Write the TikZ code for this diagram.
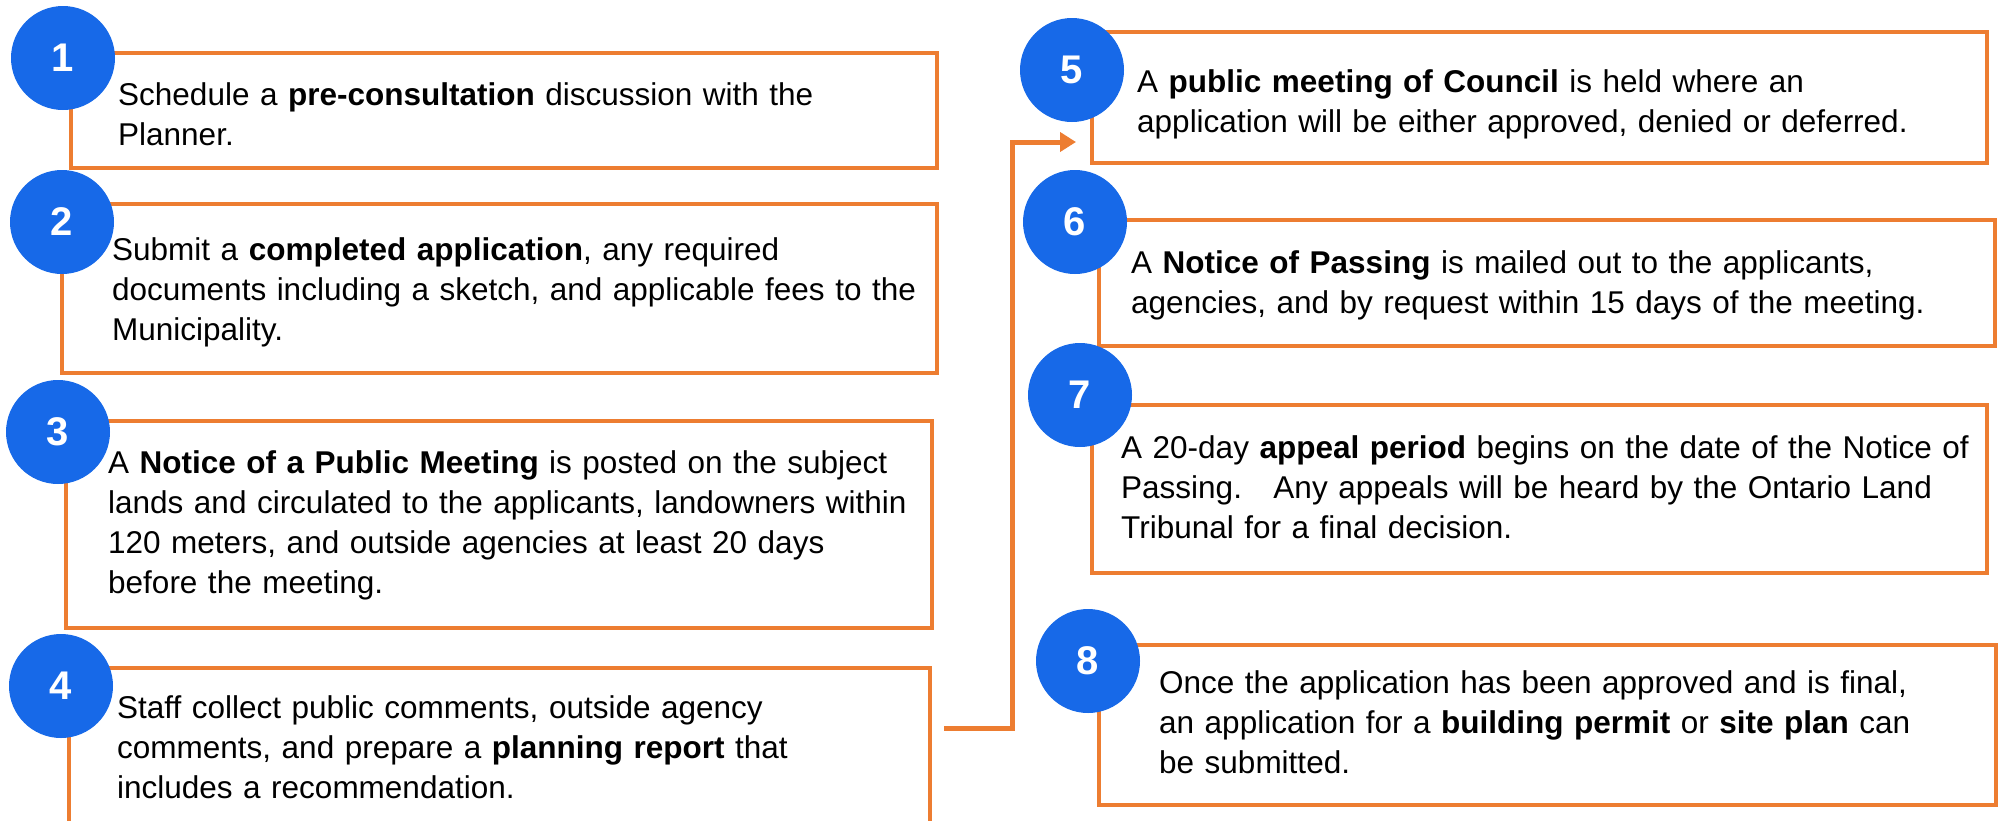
\documentclass[tikz,border=0pt]{standalone}
\usepackage{fontspec}
\setmainfont{Liberation Sans}
\usetikzlibrary{arrows.meta,calc}
\definecolor{steporange}{HTML}{ED7D31}
\definecolor{stepblue}{HTML}{1769E8}

\begin{document}
\begin{tikzpicture}[x=1pt,y=-1pt,
    stepbox/.style={draw=steporange,line width=3.5pt,inner sep=0pt,outer sep=0pt,anchor=north west},
    stepnum/.style={circle,fill=stepblue,text=white,minimum size=104pt,inner sep=0pt,
        font=\fontsize{40}{40}\selectfont\bfseries},
    steptext/.style={anchor=base west,inner sep=0pt,text width=880pt,align=left,
        font=\fontsize{31.5}{40}\selectfont},
    flowline/.style={draw=steporange,line width=5pt,-{Triangle[length=16pt,width=19pt]}}]
    \useasboundingbox (0,0) rectangle (2005,820);
    \clip (0,0) rectangle (2005,820);

    \node[stepbox,minimum width=866pt,minimum height=115pt] (b1) at (71,53) {};
    \node[stepbox,minimum width=875pt,minimum height=169pt] (b2) at (62,204) {};
    \node[stepbox,minimum width=866pt,minimum height=207pt] (b3) at (66,421) {};
    \node[stepbox,minimum width=861pt,minimum height=200pt] (b4) at (69,668) {};
    \node[stepbox,minimum width=895pt,minimum height=131pt] (b5) at (1092,32) {};
    \node[stepbox,minimum width=896pt,minimum height=126pt] (b6) at (1099,220) {};
    \node[stepbox,minimum width=895pt,minimum height=168pt] (b7) at (1092,405) {};
    \node[stepbox,minimum width=897pt,minimum height=160pt] (b8) at (1099,645) {};

    \node[stepnum] (n1) at (63,58) {1};
    \node[stepnum] (n2) at (62,222) {2};
    \node[stepnum] (n3) at (58,432) {3};
    \node[stepnum] (n4) at (61,686) {4};
    \node[stepnum] (n5) at (1072,70) {5};
    \node[stepnum] (n6) at (1075,222) {6};
    \node[stepnum] (n7) at (1080,395) {7};
    \node[stepnum] (n8) at (1088,661) {8};

    \node[steptext] (t1) at (118,105) {Schedule a \textbf{pre-consultation} discussion with the\\
        Planner.};
    \node[steptext] (t2) at (112,260) {Submit a \textbf{completed application}, any required\\
        documents including a sketch, and applicable fees to the\\
        Municipality.};
    \node[steptext] (t3) at (108,473) {A \textbf{Notice of a Public Meeting} is posted on the subject\\
        lands and circulated to the applicants, landowners within\\
        120 meters, and outside agencies at least 20 days\\
        before the meeting.};
    \node[steptext] (t4) at (117,718) {Staff collect public comments, outside agency\\
        comments, and prepare a \textbf{planning report} that\\
        includes a recommendation.};
    \node[steptext] (t5) at (1137,92) {A \textbf{public meeting of Council} is held where an\\
        application will be either approved, denied or deferred.};
    \node[steptext] (t6) at (1131,273) {A \textbf{Notice of Passing} is mailed out to the applicants,\\
        agencies, and by request within 15 days of the meeting.};
    \node[steptext] (t7) at (1121,458) {A 20-day \textbf{appeal period} begins on the date of the Notice of\\
        Passing.\ \ \ Any appeals will be heard by the Ontario Land\\
        Tribunal for a final decision.};
    \node[steptext] (t8) at (1159,693) {Once the application has been approved and is final,\\
        an application for a \textbf{building permit} or \textbf{site plan} can\\
        be submitted.};

    \coordinate (c4) at ($(b4.north east)+(14,60)$);
    \coordinate (c5) at ($(b5.south west)+(-16,-21)$);
    \draw[flowline] (c4) -- ++(68,0) |- (c5);
\end{tikzpicture}
\end{document}
